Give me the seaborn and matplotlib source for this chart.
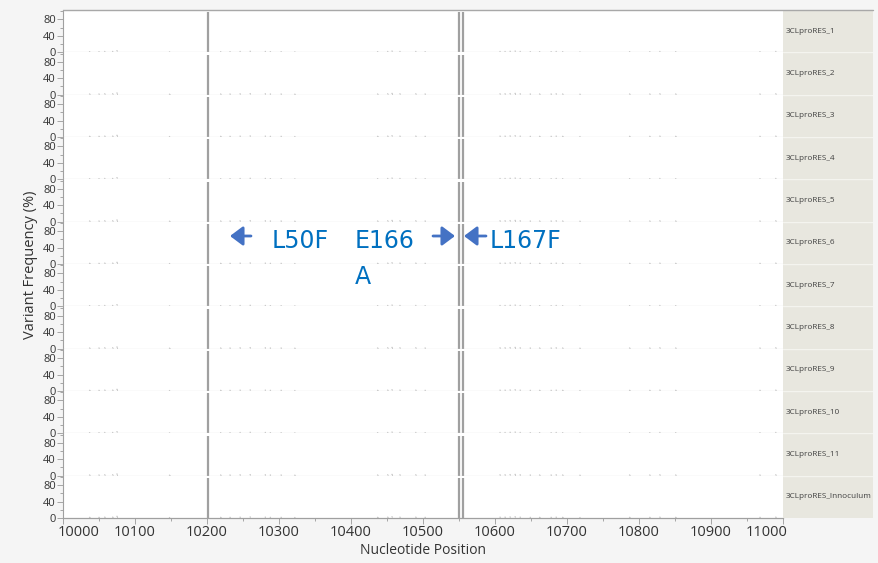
import numpy as np
import pandas as pd
import matplotlib
matplotlib.use("Agg")
import matplotlib.pyplot as plt
import matplotlib.transforms as mtransforms
from matplotlib.patches import FancyArrowPatch
import seaborn as sns

# --- data -------------------------------------------------------------
samples = ["3CLproRES_1", "3CLproRES_2", "3CLproRES_3", "3CLproRES_4",
           "3CLproRES_5", "3CLproRES_6", "3CLproRES_7", "3CLproRES_8",
           "3CLproRES_9", "3CLproRES_10", "3CLproRES_11",
           "3CLproRES_Innoculum"]

# high-frequency variants (L50F, E166A, L167F) in every sample
major_pos = [10202, 10550, 10555]
major_freq = [97, 97, 97]

# low-frequency background variants
minor_pos = [10037, 10050, 10058, 10069, 10075, 10148, 10219, 10232, 10246,
             10260, 10281, 10288, 10303, 10322, 10437, 10451, 10457, 10468,
             10490, 10503, 10607, 10614, 10621, 10628, 10635, 10649, 10662,
             10678, 10685, 10694, 10718, 10787, 10815, 10829, 10851, 10968,
             10990]
minor_freq = [1.5, 1.5, 2, 2, 4, 1, 1.5, 1.5, 2, 2.5, 2, 1.5, 1.5, 1, 1.5,
              2, 3, 2, 2, 1.5, 2, 2, 2.5, 3, 2, 1.5, 1.5, 1.5, 2, 1.5, 1,
              1.5, 1.5, 2, 1.5, 1.5, 2]

x_ticks = [10000, 10100, 10200, 10300, 10400, 10500, 10600, 10700, 10800,
           10900, 11000]
y_ticks = [0, 40, 80]

# --- layout helpers -----------------------------------------------------
W, H = 879, 563
sns.set_theme(style="white")
plt.rcParams["font.family"] = ["Open Sans", "DejaVu Sans"]

fig = plt.figure(figsize=(W / 100, H / 100), dpi=100)
fig.patch.set_facecolor("#f5f5f5")


def box(x0, y0, x1, y1):
    return [x0 / W, 1 - y1 / H, (x1 - x0) / W, (y1 - y0) / H]


def px(x, y):
    return (x / W, 1 - y / H)


left, right, top, bottom = 63, 783, 10, 518
strip_right = 873
row_h = (bottom - top) / len(samples)

line_col = "#a0a0a0"
df = pd.DataFrame({"pos": minor_pos, "freq": minor_freq})
axes = []
for i, name in enumerate(samples):
    y0 = top + i * row_h
    ax = fig.add_axes(box(left, y0, right, y0 + row_h))
    ax.set_facecolor("white")
    ax.vlines(major_pos, 0, major_freq, color=line_col, lw=1.6)
    ax.vlines(df["pos"], 0, df["freq"], color="#c8c8c8", lw=0.7)
    sns.scatterplot(data=df, x="pos", y="freq", ax=ax, s=1,
                    color="#c8c8c8", edgecolor="none", legend=False)
    ax.set_xlim(10000, 11000)
    ax.set_ylim(0, 103)
    ax.set_yticks(y_ticks)
    ax.set_yticks([20, 60, 100], minor=True)
    ax.set_yticklabels([str(v) for v in y_ticks], fontsize=8,
                       color="#333333")
    ax.tick_params(axis="y", which="major", direction="out", length=4,
                   width=0.6, color="#999999", pad=1, left=True)
    ax.tick_params(axis="y", which="minor", direction="out", length=2.5,
                   width=0.6, color="#999999", left=True)
    ax.set_xlabel("")
    ax.set_ylabel("")
    for s in ["top", "right"]:
        ax.spines[s].set_visible(False)
    ax.spines["left"].set_color("#a0a0a0")
    ax.spines["left"].set_linewidth(0.8)
    ax.spines["bottom"].set_color("#d9d9d9")
    ax.spines["bottom"].set_linewidth(0.9)
    ax.set_xticks(x_ticks)
    ax.set_xticks(np.arange(10050, 11000, 100), minor=True)
    if i < len(samples) - 1:
        ax.tick_params(axis="x", which="both", bottom=False,
                       labelbottom=False)
    axes.append(ax)

    # sample label strip on the right
    sax = fig.add_axes(box(right, y0, strip_right, y0 + row_h))
    sax.set_facecolor("#e8e7df")
    sax.set_xticks([])
    sax.set_yticks([])
    for s in sax.spines.values():
        s.set_visible(False)
    if i > 0:
        sax.axhline(1, color="#f4f4ef", lw=1.0)
    sax.text(0.03, 0.5, name, transform=sax.transAxes, fontsize=5.9,
             color="#404040", va="center", ha="left")

# bottom axis
bax = axes[-1]
bax.spines["bottom"].set_color("#a0a0a0")
bax.set_xticklabels([str(v) for v in x_ticks], fontsize=10.5,
                    color="#333333")
bax.tick_params(axis="x", which="major", direction="out", length=4,
                width=0.6, color="#999999", pad=1, bottom=True)
bax.tick_params(axis="x", which="minor", direction="out", length=2.5,
                width=0.6, color="#999999", bottom=True)
labels = bax.get_xticklabels()
labels[0].set_horizontalalignment("left")
labels[0].set_transform(labels[0].get_transform() +
                        mtransforms.ScaledTranslation(-5 / 100, 0,
                                                      fig.dpi_scale_trans))
labels[-1].set_horizontalalignment("right")
labels[-1].set_transform(labels[-1].get_transform() +
                         mtransforms.ScaledTranslation(5 / 100, 0,
                                                       fig.dpi_scale_trans))

# frame line across the top of the panel
fig.add_artist(plt.Line2D([left / W, strip_right / W],
                          [1 - top / H, 1 - top / H],
                          color="#a8a8a8", lw=1.0))

# axis titles
fig.text(423 / W, 1 - 551 / H, "Nucleotide Position", ha="center",
         va="center", fontsize=10, color="#333333")
fig.text(31 / W, 1 - 265 / H, "Variant Frequency (%)", ha="center",
         va="center", rotation=90, fontsize=10.5, color="#333333")

# mutation call-outs
blue_txt = "#0070c0"
blue_arr = "#4472c4"
ann_font = ["DejaVu Sans"]

arrow_kw = dict(arrowstyle="-|>,head_length=0.6,head_width=0.45",
                color=blue_arr, lw=2.0, shrinkA=0, shrinkB=0,
                mutation_scale=13, transform=fig.transFigure)
fig.add_artist(FancyArrowPatch(px(251, 236), px(230, 236), **arrow_kw))
fig.add_artist(FancyArrowPatch(px(433, 236), px(455, 236), **arrow_kw))
fig.add_artist(FancyArrowPatch(px(486, 236), px(464, 236), **arrow_kw))

ann_kw = dict(ha="left", va="center", fontsize=17, color=blue_txt,
              family=ann_font)
fig.text(*px(272, 241), "L50F", **ann_kw)
fig.text(*px(355, 241), "E166", **ann_kw)
fig.text(*px(355, 277), "A", **ann_kw)
fig.text(*px(490, 241), "L167F", **ann_kw)

fig.savefig("out.png", dpi=100, facecolor=fig.get_facecolor())
